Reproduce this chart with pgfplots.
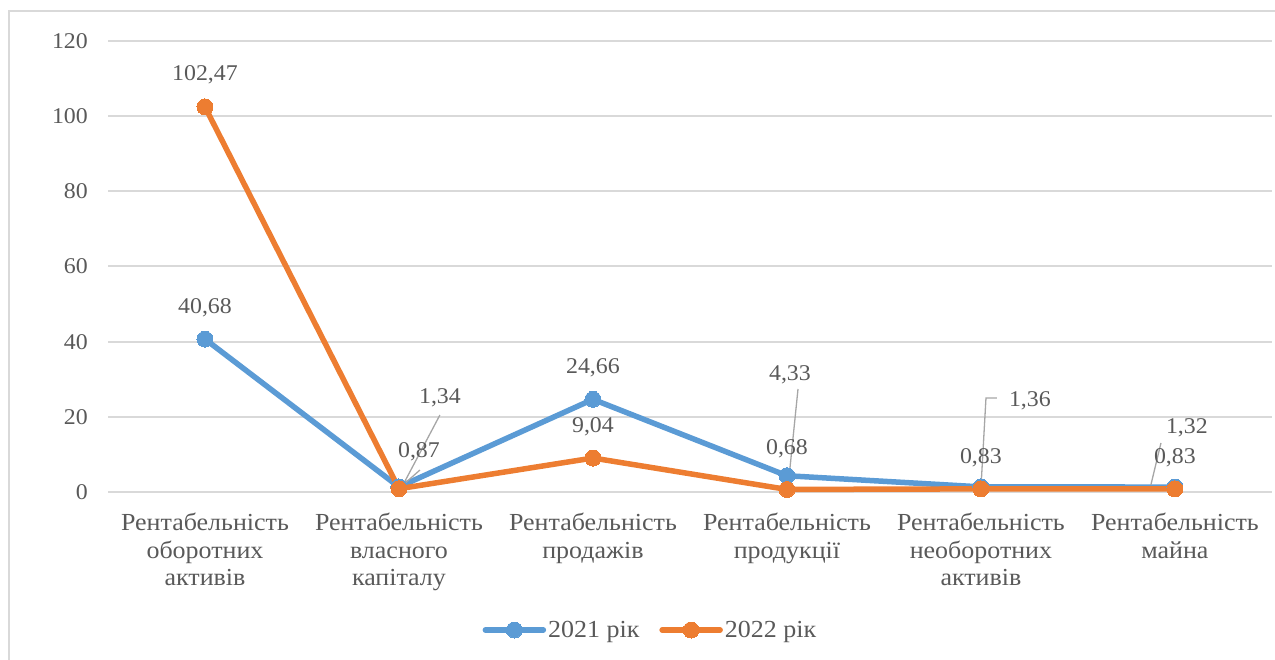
\documentclass[border=0pt]{standalone}
\usepackage{fontspec}
\setmainfont{Liberation Serif}[FakeStretch=1.06]
\usepackage{pgfplots}
\pgfplotsset{compat=1.18}
\usepackage{pgfplotstable}
\definecolor{cA}{HTML}{5B9BD5}
\definecolor{cB}{HTML}{ED7D31}
\definecolor{gridc}{HTML}{D9D9D9}
\definecolor{txt}{HTML}{595959}
\definecolor{lead}{HTML}{A6A6A6}
\newcommand\f{\fontsize{22.5}{27.5}\selectfont}
\newcommand\g{\fontsize{24.5}{27.5}\selectfont}

\pgfplotstableread{
x y dx dy lab
0 40.68 0 31 40,68
1 1.34 41 89 1,34
2 24.66 0 32 24,66
3 4.33 3 101 4,33
4 1.36 49 86 1,36
5 1.32 12 59 1,32
}\tA
\pgfplotstableread{
x y dx dy lab
0 102.47 0 32 102,47
1 0.87 20 37 0,87
2 9.04 0 31 9,04
3 0.68 0 41 0,68
4 0.83 0 31 0,83
5 0.83 0 31 0,83
}\tB

\begin{document}
\begin{tikzpicture}[x=1pt,y=1pt]
\useasboundingbox (0,0) rectangle (1275,659);
\draw[gridc, line width=2pt] (9,-20) -- (9,648) -- (1300,648);
\begin{axis}[
  at={(108pt,167pt)}, anchor=south west,
  width=1164pt, height=451pt, scale only axis,
  xmin=-0.5, xmax=5.5, ymin=0, ymax=120,
  ytick={0,20,...,120},
  xtick={0,...,5},
  xticklabels={
    {Рентабельність\\оборотних\\активів},
    {Рентабельність\\власного\\капіталу},
    {Рентабельність\\продажів},
    {Рентабельність\\продукції},
    {Рентабельність\\необоротних\\активів},
    {Рентабельність\\майна}},
  axis line style={draw=none},
  major tick style={draw=none},
  ymajorgrids,
  grid style={gridc, line width=2pt},
  clip=false,
  /pgf/number format/assume math mode=true,
  yticklabel style={font=\f, text=txt, anchor=east, inner sep=0pt, xshift=-20pt},
  xticklabel style={font=\g, text=txt, anchor=north, align=center, inner sep=0pt, yshift=-21pt},
  legend style={draw=none, fill=none, font=\g, text=txt, legend columns=2,
     at={(0.466,-0.306)}, anchor=center,
     /tikz/every even column/.append style={column sep=18pt}},
  legend image code/.code={\draw[#1, mark repeat=2, mark phase=2] plot coordinates {(0pt,0pt) (29pt,0pt) (58pt,0pt)};},
  point meta=explicit symbolic,
  nodes near coords,
  visualization depends on={\thisrow{dx} \as \dx},
  visualization depends on={\thisrow{dy} \as \dy},
  every node near coord/.append style={font=\f, text=txt, anchor=center, xshift=\dx pt, yshift=\dy pt},
]
\addplot[cA, line width=5.5pt, line cap=round, line join=round, mark=*, mark size=8pt, mark options={fill=cA, draw=cA, line width=0pt}]
  table[x=x, y=y, meta=lab] {\tA};
\addlegendentry{2021 рік}
\addplot[cB, line width=5.5pt, line cap=round, line join=round, mark=*, mark size=8pt, mark options={fill=cB, draw=cB, line width=0pt}]
  table[x=x, y=y, meta=lab] {\tB};
\addlegendentry{2022 рік}
\draw[lead, line width=1.3pt] (axis cs:1.211,20.49) -- (axis cs:1.015,1.33);
\draw[lead, line width=1.3pt] (axis cs:1.108,5.85) -- (axis cs:1.015,1.6);
\draw[lead, line width=1.3pt] (axis cs:3.057,27.41) -- (axis cs:3.005,1.06);
\draw[lead, line width=1.3pt] (axis cs:4.082,25.01) -- (axis cs:4.026,25.01) -- (axis cs:4.0,1.06);
\draw[lead, line width=1.3pt] (axis cs:4.928,13.04) -- (axis cs:4.876,1.86);
\end{axis}
\end{tikzpicture}
\end{document}
